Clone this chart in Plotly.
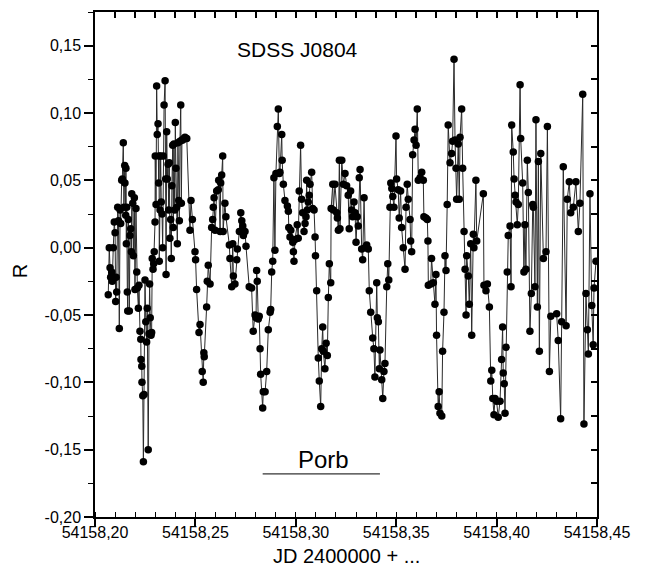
import numpy as np
import plotly.graph_objects as go

JD0 = 54158.0
# time (JD - 54158) and R magnitude values
jd_frac = [
 .2066,.2071,.2075,.2078,.2083,.2086,.2091,.2096,.2100,.2103,.2105,.2108,.2113,.2117,.2121,.2125,.2128,.2133,.2136,.2141,
 .2144,.2148,.2149,.2153,.2154,.2156,.2158,.2161,.2163,.2166,.2171,.2174,.2178,.2181,.2183,.2188,.2191,.2196,.2199,.2204,
 .2208,.2211,.2216,.2219,.2224,.2228,.2229,.2233,.2234,.2238,.2241,.2244,.2249,.2253,.2257,.2260,.2265,.2269,.2272,.2275,
 .2279,.2282,.2285,.2289,.2292,.2295,.2299,.2300,.2304,.2307,.2310,.2314,.2317,.2319,.2320,.2324,.2327,.2330,.2334,.2337,
 .2340,.2344,.2349,.2352,.2354,.2357,.2360,.2364,.2367,.2370,.2373,.2377,.2380,.2383,.2387,.2390,.2393,.2397,.2400,.2403,
 .2407,.2410,.2413,.2417,.2420,.2423,.2427,.2430,.2433,.2437,.2443,.2448,.2457,
 .2473,.2478,.2485,.2498,.2501,.2506,.2518,.2523,.2534,.2539,.2542,.2544,.2556,.2559,.2564,.2573,
 .2581,.2586,.2589,.2593,.2598,.2606,.2614,.2616,.2623,.2626,.2631,.2636,.2638,.2647,.2652,.2669,.2672,.2681,.2686,.2689,
 .2697,.2706,.2709,.2719,.2726,.2731,.2736,.2739,.2747,.2752,.2768,.2780,.2788,.2797,.2802,.2805,.2808,.2813,.2818,.2822,
 .2825,.2835,.2838,.2847,.2855,.2863,.2872,.2875,.2880,.2885,.2891,.2896,.2901,.2908,.2913,.2918,.2921,.2930,.2932,.2938,
 .2946,.2958,.2963,.2965,.2971,.2975,.2985,.2988,.2991,.2996,.3007,.3012,.3017,.3024,.3029,.3034,.3041,.3046,.3051,.3054,
 .3057,.3062,.3067,.3071,.3079,.3084,.3091,.3096,.3098,.3104,.3112,.3117,.3124,.3129,.3134,.3137,.3145,.3151,.3157,.3162,
 .3167,.3174,.3176,.3184,.3187,.3195,.3204,.3207,.3212,.3217,
 .3220,.3229,.3237,.3245,.3253,.3261,.3266,.3273,.3278,.3283,.3290,.3295,.3300,.3306,.3311,.3316,.3320,.3328,.3333,.3340,
 .3345,.3353,.3361,.3366,.3373,.3383,.3389,.3394,.3403,.3406,.3411,.3416,.3419,.3428,.3433,.3439,.3444,.3453,.3458,.3463,
 .3469,.3473,.3478,.3483,.3489,.3499,.3502,.3510,.3515,.3522,.3527,.3535,.3544,.3549,.3555,.3560,.3569,.3572,.3577,.3582,
 .3589,.3594,.3599,.3605,.3610,.3619,.3627,.3635,.3638,.3648,.3655,.3658,.3660,.3672,.3676,.3685,.3693,.3698,.3701,.3709,
 .3714,.3718,.3727,.3731,.3738,.3743,.3748,.3754,.3759,.3768,.3776,.3781,.3788,.3793,.3798,.3801,.3809,.3814,.3818,.3826,
 .3831,.3838,.3843,.3848,.3851,.3859,.3864,.3871,.3876,.3884,.3887,.3897,.3901,
 .3934,.3937,.3947,.3954,.3964,.3971,.3976,.3981,.3987,.3992,.4000,.4008,.4017,.4025,.4030,.4033,.4038,.4042,.4047,.4053,
 .4058,.4067,.4072,.4075,.4083,.4087,.4092,.4097,.4103,.4108,.4117,.4120,.4130,.4136,.4141,.4146,.4153,.4158,.4166,.4173,
 .4180,.4183,.4191,.4196,.4203,.4208,.4213,.4220,.4233,.4246,.4253,.4263,.4270,.4299,.4307,.4319,.4324,.4332,.4346,.4352,
 .4362,.4369,.4382,.4395,.4407,.4415,.4429,.4435,.4445,.4452,.4457,.4465,.4474,.4481,.4485,.4495,
]
r_mag = [
 -0.035,0.000,-0.015,-0.022,-0.018,-0.025,0.000,0.019,0.011,-0.040,-0.022,-0.033,0.030,0.020,-0.060,0.028,0.018,0.050,0.051,0.078,
 0.030,0.061,0.048,0.024,0.059,0.003,0.030,-0.033,-0.047,0.021,-0.047,0.009,0.014,-0.003,0.040,0.033,-0.006,0.037,-0.031,0.029,
 -0.018,-0.030,-0.045,-0.028,-0.062,-0.068,-0.083,-0.088,-0.100,-0.110,-0.159,-0.109,-0.024,-0.055,-0.070,-0.045,-0.150,-0.064,-0.027,-0.052,
 -0.065,-0.063,-0.008,-0.016,-0.012,-0.003,0.019,0.068,0.032,0.120,0.084,0.092,0.048,0.068,-0.010,0.028,0.068,0.034,0.025,0.000,
 0.068,0.106,0.124,0.051,-0.020,0.086,0.051,0.062,0.028,0.063,0.007,0.021,-0.008,0.046,0.076,0.015,0.077,0.028,0.093,0.059,
 0.030,0.003,0.078,0.035,0.020,0.079,0.106,0.033,0.080,0.080,0.081,0.082,0.081,
 0.013,0.035,0.021,-0.003,-0.009,-0.031,-0.063,-0.057,-0.092,-0.100,-0.078,-0.081,-0.044,-0.025,-0.013,-0.027,
 0.015,0.021,0.030,0.037,0.013,0.042,0.043,0.050,0.012,0.048,0.054,0.068,0.012,0.033,0.023,0.002,-0.008,-0.029,0.003,-0.021,
 -0.027,-0.009,-0.001,0.012,0.026,0.020,0.016,0.009,0.012,0.001,-0.029,-0.030,-0.062,-0.050,-0.052,-0.017,-0.025,-0.053,-0.051,-0.075,
 -0.094,-0.119,-0.107,-0.107,-0.092,-0.061,-0.048,-0.046,-0.018,-0.010,0.052,-0.002,0.055,0.090,0.103,0.055,0.056,0.084,0.065,0.047,
 0.035,0.031,0.027,0.015,0.008,0.013,0.004,-0.003,-0.010,0.006,0.017,0.007,0.042,0.076,0.036,0.026,0.012,0.018,0.023,0.050,
 0.028,0.034,0.039,0.047,0.056,0.029,0.028,0.008,-0.006,-0.032,-0.082,-0.099,-0.118,-0.075,-0.059,-0.077,-0.090,-0.071,-0.080,-0.037,
 -0.012,-0.026,0.029,0.047,0.028,0.047,0.026,0.022,0.013,0.065,
 0.014,0.065,0.047,0.055,0.046,0.039,0.014,0.042,0.028,0.023,0.034,0.026,0.004,0.023,0.016,0.052,0.058,-0.001,-0.009,0.037,
 0.000,0.002,-0.001,-0.032,-0.048,-0.067,-0.075,-0.096,-0.026,-0.052,-0.055,-0.090,-0.076,-0.098,-0.112,-0.092,-0.086,-0.029,-0.012,-0.024,
 0.030,0.048,0.044,0.038,0.030,0.083,0.051,0.043,0.022,0.042,0.015,0.000,-0.016,0.030,0.047,0.036,0.021,0.005,-0.003,0.069,
 0.080,0.088,0.076,0.103,0.050,0.052,0.056,0.050,0.023,0.022,0.021,0.005,-0.028,-0.027,-0.008,-0.026,-0.042,-0.020,-0.065,-0.118,
 -0.107,-0.123,-0.125,-0.077,-0.048,-0.006,-0.017,0.032,0.091,0.063,0.070,0.079,0.140,0.080,0.059,0.036,0.077,0.036,0.082,0.103,
 0.059,0.012,-0.016,-0.050,-0.006,-0.021,-0.042,0.003,-0.065,0.010,0.000,0.050,0.005,
 0.040,-0.028,-0.032,-0.027,-0.044,-0.099,-0.091,-0.112,-0.124,-0.112,-0.114,-0.126,-0.114,-0.083,-0.059,-0.093,-0.101,-0.123,-0.074,-0.018,
 0.009,0.016,-0.029,0.091,0.071,0.051,0.039,0.034,0.017,0.032,0.121,0.081,0.048,-0.018,0.017,-0.016,0.065,0.041,-0.062,-0.034,
 0.032,0.030,-0.029,0.095,-0.044,0.064,-0.077,0.070,-0.008,-0.003,0.090,-0.092,-0.051,-0.049,-0.069,-0.127,-0.055,0.060,-0.058,0.036,
 0.049,0.026,0.030,0.049,0.012,0.033,0.114,-0.131,-0.034,-0.061,-0.079,0.040,-0.043,-0.072,-0.030,-0.010,
]

x_tickvals = [54158.20, 54158.25, 54158.30, 54158.35, 54158.40, 54158.45]
x_ticktext = ["54158,20", "54158,25", "54158,30", "54158,35", "54158,40", "54158,45"]
y_tickvals = [-0.20, -0.15, -0.10, -0.05, 0.00, 0.05, 0.10, 0.15]
y_ticktext = ["-0,20", "-0,15", "-0,10", "-0,05", "0,00", "0,05", "0,10", "0,15"]

x_range = [54158.20, 54158.45]
y_range = [-0.20, 0.175]

porb_x = [54158.2835, 54158.3419]
porb_y = -0.168

jd = [JD0 + v for v in jd_frac]

FONT = "Liberation Sans, Arial, sans-serif"

fig = go.Figure()
fig.add_trace(go.Scatter(
    x=jd, y=r_mag, mode="lines+markers",
    line=dict(color="#2a2a2a", width=1),
    marker=dict(color="black", size=7.5, line=dict(width=0)),
    showlegend=False, hoverinfo="skip",
))
# empty trace to anchor the mirrored top/right axes
fig.add_trace(go.Scatter(x=[None], y=[None], xaxis="x2", yaxis="y2", showlegend=False, hoverinfo="skip"))

x_minor = list(np.round(np.arange(54158.20, 54158.4501, 0.01), 3))
y_minor = list(np.round(np.arange(-0.20, 0.1751, 0.025), 3))

common = dict(showgrid=False, zeroline=False, showline=True, linecolor="black", linewidth=1.5)

# the page body adds an 8 px offset, so the figure is 8 px smaller than the window
fig.update_layout(
    width=641, height=570,
    margin=dict(l=87, r=52, t=2, b=61),
    paper_bgcolor="white", plot_bgcolor="white",
    font=dict(family=FONT, color="black"),
    xaxis=dict(range=x_range, tickmode="array", tickvals=x_tickvals, ticktext=x_ticktext,
               ticks="outside", ticklen=8, tickwidth=1.5, tickcolor="black",
               ticklabelstandoff=-8,
               tickfont=dict(size=16, family=FONT),
               minor=dict(tickmode="array", tickvals=x_minor, ticks="inside", ticklen=5, tickwidth=1.3, tickcolor="black"),
               mirror=True, **common),
    yaxis=dict(range=y_range, tickmode="array", tickvals=y_tickvals, ticktext=y_ticktext,
               ticks="outside", ticklen=9, tickwidth=1.5, tickcolor="black",
               tickfont=dict(size=16, family=FONT),
               minor=dict(tickmode="array", tickvals=y_minor, ticks="outside", ticklen=5, tickwidth=1.3, tickcolor="black"),
               mirror=True, **common),
    xaxis2=dict(range=x_range, overlaying="x", side="top", anchor="y", tickmode="array", tickvals=x_minor,
                ticks="inside", ticklen=6, tickwidth=1.5, tickcolor="black", showticklabels=False,
                showgrid=False, zeroline=False, showline=False),
    yaxis2=dict(range=y_range, overlaying="y", side="right", anchor="x", tickmode="array", tickvals=y_minor,
                ticks="inside", ticklen=6, tickwidth=1.5, tickcolor="black", showticklabels=False,
                showgrid=False, zeroline=False, showline=False),
    shapes=[dict(type="line", xref="x", yref="y", x0=porb_x[0], x1=porb_x[1], y0=porb_y, y1=porb_y,
                 line=dict(color="black", width=1))],
    annotations=[
        dict(text="SDSS J0804", x=54158.3006, y=0.147, xref="x", yref="y", showarrow=False,
             font=dict(size=21, family=FONT), xanchor="center", yanchor="middle"),
        dict(text="Porb", x=54158.3140, y=-0.157, xref="x", yref="y", showarrow=False,
             font=dict(size=24, family=FONT), xanchor="center", yanchor="middle"),
        dict(text="JD 2400000 + ...", x=0.5, y=-0.077, xref="paper", yref="paper", showarrow=False,
             font=dict(size=20, family=FONT), xanchor="center", yanchor="middle"),
        dict(text="R", x=-0.149, y=0.487, xref="paper", yref="paper", showarrow=False, textangle=-90,
             font=dict(size=20, family=FONT), xanchor="center", yanchor="middle"),
    ],
)

assert len(jd) == len(r_mag), (len(jd), len(r_mag))
fig.write_html("out.html")
